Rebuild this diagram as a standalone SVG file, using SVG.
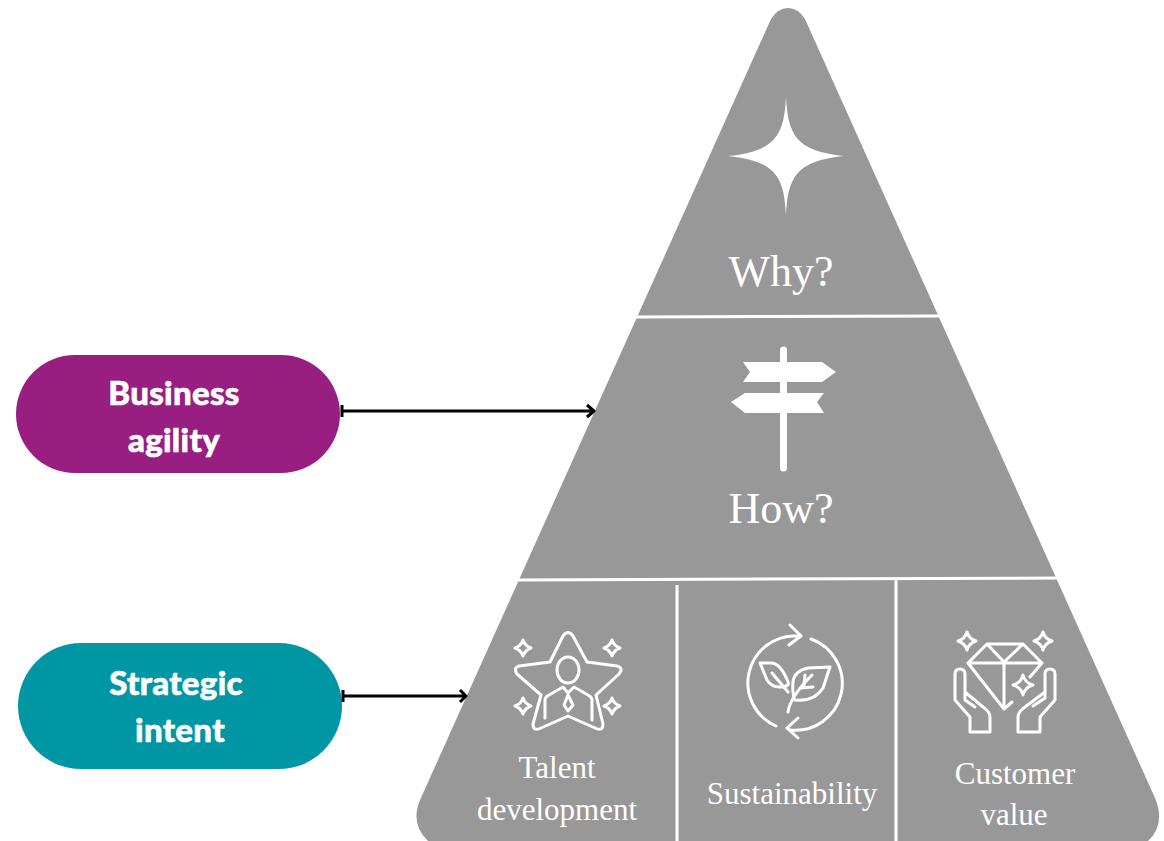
<svg xmlns="http://www.w3.org/2000/svg" width="1164" height="841" viewBox="0 0 1164 841">
<style>
.ico{fill:none;stroke:#fff;stroke-width:3;stroke-linecap:round;stroke-linejoin:round}
.sol{fill:#fff;stroke:none}
.div{stroke:#fff;stroke-width:3;fill:none}
.ser{font-family:"Liberation Serif","DejaVu Serif",serif;fill:#fff;text-anchor:middle}
.big{font-size:44px}
.sm{font-size:31px}
.lab{font-family:"Lato","Open Sans",sans-serif;font-weight:900;font-size:33px;letter-spacing:.3px;fill:#fff;stroke:#fff;stroke-width:.6px;text-anchor:middle}
.con{stroke:#000;stroke-width:3;fill:none;stroke-linejoin:round}
</style>
<rect width="1164" height="841" fill="#fff"/>
<g id="pyramid">
<path d="M771 19Q778 8 788 8Q798 8 805 19L1155 798Q1166 824 1148 841L428 841Q410 824 420 800Z" fill="#989898"/>
<path class="div" d="M636 317L942 316M518 580L1058 578M677 585V841M896 580V841"/>
</g>
<g id="why">
<path class="sol" d="M786 97C788 135 796 151 844 156C796 161 788 177 786 215C784 177 776 161 728 156C776 151 784 135 786 97Z"/>
<text class="ser big" x="781" y="286">Why?</text>
</g>
<g id="how">
<path class="sol" d="M780 350a3.500 3.500 0 0 1 7 0V362H822L836 372L822 382H787V393H824L817 402L824 413H787V468a3.500 3.500 0 0 1 -7 0V413H745L731 402L745 393H780V382H743L750 372L743 362H780Z"/>
<text class="ser big" x="781" y="523">How?</text>
</g>
<g id="talent">
<path class="ico" d="M563 636Q568 629 573 636L587 662L617 666Q624 668 619 674L596 695L603 724Q603 732 595 728L568 716L541 728Q533 732 533 724L541 695L517 674Q513 668 519 666L550 662Z"/>
<ellipse class="ico" cx="568" cy="670" rx="11" ry="13"/>
<path class="ico" d="M545 718V700Q545 697 549 695L563 687L568 693L574 687L588 695Q592 697 592 700V720M568 695L564 705L568 711L573 705Z"/>
<path class="ico" d="M523 640Q525 646 531 648Q525 650 523 656Q521 650 515 648Q521 646 523 640Z"/>
<path class="ico" d="M612 640Q614 646 620 648Q614 650 612 656Q610 650 604 648Q610 646 612 640Z"/>
<path class="ico" d="M523 698Q525 704 531 706Q525 708 523 714Q521 708 515 706Q521 704 523 698Z"/>
<path class="ico" d="M612 698Q614 704 620 706Q614 708 612 714Q610 708 604 706Q610 704 612 698Z"/>
<text class="ser sm" x="557" y="778">Talent</text>
<text class="ser sm" x="557" y="820">development</text>
</g>
<g id="sustainability">
<path class="ico" stroke-width="3.500" d="M797 636A47 47 0 0 0 776 726M790 625L801 636L789 645M811 639A47 47 0 0 1 790 730M798 718L787 728L798 738"/>
<path class="ico" d="M760 663H772Q781 664 788 682Q790 686 782 687Q772 688 767 680ZM772 673L788 692M830 667L808 668Q794 671 793 682Q792 694 795 700Q814 702 823 688ZM788 712Q790 697 812 675M805 675L804 685M800 688L813 687"/>
<text class="ser sm" x="792" y="804">Sustainability</text>
</g>
<g id="customer">
<path class="ico" d="M987 644H1023L1042 663L1030 677M1012 702L1004 709L968 663L987 644M987 644L1004 662L1023 644M968 663H1042M1004 663V709"/>
<path class="ico" d="M967 632Q969 639 976 641Q969 643 967 650Q965 643 958 641Q965 639 967 632Z"/>
<path class="ico" d="M1043 632Q1045 639 1052 641Q1045 643 1043 650Q1041 643 1034 641Q1041 639 1043 632Z"/>
<path class="ico" d="M1023 675Q1025 683 1033 685Q1025 687 1023 695Q1021 687 1013 685Q1021 683 1023 675Z"/>
<path class="ico" d="M970 732V717L955 700V674Q955 669 960 669Q965 669 965 674V692L983 707Q990 712 990 717V732ZM965 692V700L975 707"/>
<path class="ico" d="M1040 732V717L1055 700V674Q1055 669 1050 669Q1045 669 1045 674V692L1025 707Q1018 712 1018 717V732ZM1045 692V698L1033 706"/>
<text class="ser sm" x="1015" y="784">Customer</text>
<text class="ser sm" x="1014" y="825">value</text>
</g>
<g id="business-agility">
<rect x="16" y="355" width="324" height="118" rx="59" fill="#981f81"/>
<text class="lab" x="174" y="405">Business</text>
<text class="lab" x="174" y="452">agility</text>
</g>
<g id="strategic-intent">
<rect x="18" y="643" width="324" height="126" rx="63" fill="#0096a4"/>
<text class="lab" x="176" y="695">Strategic</text>
<text class="lab" x="180" y="742">intent</text>
</g>
<g id="connectors">
<path class="con" d="M342 411H593M587 405L594 411L587 417M342 405V417"/>
<path class="con" d="M343 696H465M460 690L466 696L460 702M343 690V702"/>
</g>
</svg>
